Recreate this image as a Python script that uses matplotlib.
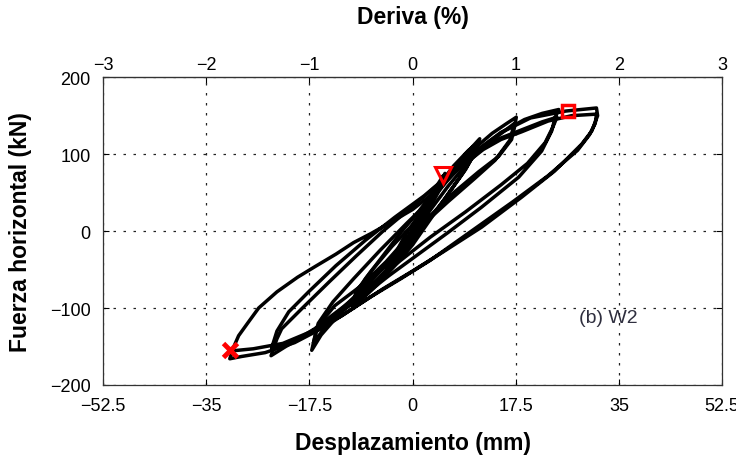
import matplotlib
matplotlib.use("Agg")
import matplotlib.pyplot as plt

plt.rcParams['font.family'] = ['Liberation Sans', 'DejaVu Sans']

# Lateral displacement (mm) and horizontal force (kN) for each amplitude level,
# two cycles per level, traced in loading order.
loop_5_disp = [0, 2, 4, 5.5, 5, 3.5, 1.5, -1, -3, -5, -4.5, -3, -1.2, 1, 3, 5.2,
               4.6, 3, 1, -1.5, -3.5, -5]
loop_5_force = [0, 25, 52, 75, 60, 38, 10, -18, -40, -62, -52, -30, -5, 20, 45, 72,
                58, 35, 5, -25, -45, -60]

loop_10_disp = [-5, -3, 0, 3, 6, 9, 11.4, 10.8, 9, 6, 3, 0, -3, -6, -8.5, -10.3,
                -9.8, -8, -5, -2, 1, 4, 7, 9.5, 11.2,
                10.5, 8.5, 5.5, 2, -1.5, -5, -8, -10.2]
loop_10_force = [-60, -32, 2, 38, 70, 100, 120, 105, 80, 48, 15, -18, -45, -70, -88, -97,
                 -85, -62, -32, -2, 25, 55, 85, 105, 115,
                 100, 75, 42, 8, -25, -55, -80, -95]

loop_17_disp = [-10.2, -9.5, -7, -3.5, 0, 3.5, 7, 10, 13.5, 16, 17.6,
                17.3, 16.8, 14.6, 11.2, 7, 3, 0, -3, -7, -10, -13, -15.5, -17.1,
                -16.5, -16, -13.2, -8.7, -4.5, -1, 2.5, 6, 9.5, 13, 17.3,
                16.5, 14, 10.5, 6, 2, -2, -6, -9.8, -13.5, -16.8]
loop_17_force = [-95, -78, -52, -20, 8, 42, 78, 104, 127, 140, 148,
                 135, 119, 97, 77, 50, 20, -5, -32, -65, -90, -113, -135, -155,
                 -135, -123, -97, -71, -40, -10, 22, 58, 90, 115, 140,
                 118, 92, 68, 38, 10, -22, -55, -85, -112, -145]

loop_24_disp = [-16.8, -16, -13.5, -10, -5.5, -1, 3, 7, 11, 15, 19, 22, 24.8,
                24.2, 23.6, 21.9, 18, 11.7, 6, 1, -4, -9, -14, -18, -21.5, -24,
                -23, -22.2, -18.8, -14, -9.5, -5, 0, 5, 10, 14, 18, 22, 24.5,
                23.8, 22.5, 19.5, 15, 9, 3, -2, -7, -12, -16.6, -20.5, -23.9]
loop_24_force = [-145, -120, -92, -62, -25, 10, 40, 75, 105, 128, 145, 153, 158,
                 148, 130, 104, 70, 31, -2, -30, -58, -88, -115, -135, -150, -162,
                 -140, -127, -101, -65, -32, 0, 32, 65, 98, 118, 130, 142, 148,
                 135, 115, 88, 60, 25, -8, -38, -70, -100, -127, -145, -152]

loop_31_disp = [-23.9, -23, -21, -17.5, -13, -8, -3, 2, 6, 10, 15, 20, 26, 31.2,
                31.4, 30.4, 28.7, 24.1, 18.5, 11.7, 5, 0, -5, -10, -15, -20, -25, -29, -31,
                -30.3, -29.5, -28, -26.1, -23, -19.5, -16.5, -13, -10, -7, -4, 0, 4, 8, 12,
                15, 18.5, 23, 27, 31.2,
                31, 30, 28, 23, 17, 10, 3, -2, -7, -12, -17, -22, -27, -31]
loop_31_force = [-152, -130, -105, -78, -45, -12, 18, 46, 72, 100, 128, 147, 156, 160,
                 150, 130, 113, 78, 44, 5, -28, -52, -75, -100, -125, -145, -158, -163, -166,
                 -150, -136, -120, -100, -79, -60, -46, -30, -15, -3, 10, 28, 52, 82, 106,
                 119, 129, 143, 150, 152,
                 140, 125, 105, 72, 38, 0, -38, -62, -85, -110, -130, -146, -153, -156]

# Notable states
yield_point = (5.1, 73)
max_force_point = (26.3, 156)
failure_point = (-31.0, -155)

disp_ticks = [-52.5, -35, -17.5, 0, 17.5, 35, 52.5]
force_ticks = [-200, -100, 0, 100, 200]
drift_ticks = [-3, -2, -1, 0, 1, 2, 3]
wall_height_mm = 1750.0  # 1 % drift = 17.5 mm

fig = plt.figure(figsize=(7.36, 4.60), dpi=100)
ax = fig.add_axes([0.140, 0.161, 0.841, 0.669])

for xs, ys in [(loop_5_disp, loop_5_force), (loop_10_disp, loop_10_force),
               (loop_17_disp, loop_17_force), (loop_24_disp, loop_24_force),
               (loop_31_disp, loop_31_force)]:
    ax.plot(xs, ys, color='black', lw=2.5, solid_joinstyle='round',
            solid_capstyle='round', zorder=3)

ax.plot(*yield_point, marker='v', ms=11, mfc='none', mec='#ff0000', mew=2.2, zorder=5)
ax.plot(*max_force_point, marker='s', ms=8, mfc='none', mec='#ff0000', mew=2.5, zorder=5)
ax.plot(*failure_point, marker='x', ms=10, mec='#ff0000', mew=3.5, zorder=5)

ax.text(28.3, -112, '(b) W2', fontsize=14, color='#2f2f3f', ha='left', va='center')

ax.set_xlim(-52.5, 52.5)
ax.set_ylim(-200, 200)
ax.set_xticks(disp_ticks)
ax.set_xticklabels(['\u221252.5', '\u221235', '\u221217.5', '0', '17.5', '35', '52.5'])
ax.set_yticks(force_ticks)
ax.set_yticklabels(['\u2212200', '\u2212100', '0', '100', '200'])
ax.tick_params(direction='in', length=4, width=0.8, labelsize=13, pad=9,
               right=True, top=False)
ax.grid(True, color='#222222', linestyle=(0, (2, 6)), linewidth=0.9)
for s in ax.spines.values():
    s.set_linewidth(0.9)
    s.set_color('#333333')

sec = ax.secondary_xaxis('top', functions=(lambda d: d / wall_height_mm * 100,
                                           lambda p: p * wall_height_mm / 100))
sec.set_xticks(drift_ticks)
sec.set_xticklabels(['\u22123', '\u22122', '\u22121', '0', '1', '2', '3'])
sec.tick_params(direction='in', length=4, width=0.8, labelsize=13, pad=3)
sec.set_xlabel('Deriva (%)', fontsize=16.5, fontweight='bold', labelpad=24)

ax.set_xlabel('Desplazamiento (mm)', fontsize=16.5, fontweight='bold', labelpad=12)
ax.set_ylabel('Fuerza horizontal (kN)', fontsize=16.5, fontweight='bold', labelpad=13)

fig.savefig('out.png', dpi=100)
